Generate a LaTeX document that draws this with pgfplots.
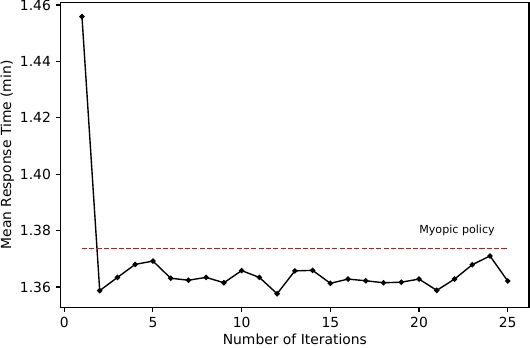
\documentclass[border=0pt]{standalone}
\usepackage{fontspec}
\setmainfont{DejaVu Sans}
\usepackage{pgfplots}
\pgfplotsset{compat=1.18}

\begin{document}
\begin{tikzpicture}
\useasboundingbox (-43.7pt,-29.3pt) rectangle (338.0pt,221.3pt);
\begin{axis}[
    scale only axis,
    width=337.3pt,
    height=219.5pt,
    xmin=-0.2, xmax=26.2,
    ymin=1.3528, ymax=1.4609,
    xtick={0,5,10,15,20,25},
    ytick={1.36,1.38,1.40,1.42,1.44,1.46},
    yticklabel style={/pgf/number format/.cd, fixed, fixed zerofill, precision=2},
    /pgf/number format/assume math mode=true,
    tick align=outside,
    xtick pos=bottom,
    ytick pos=left,
    major tick length=3.5pt,
    tick style={black, line width=0.8pt},
    axis line style={line width=0.8pt},
    ticklabel style={font=\fontsize{10pt}{12pt}\selectfont},
    xlabel={Number of Iterations},
    ylabel={Mean Response Time (min)},
    label style={font=\fontsize{10pt}{12pt}\selectfont},
    xlabel style={at={(axis description cs:0.5,0)}, anchor=base, yshift=-26.9pt, inner sep=0pt},
    % ylabel is rotated, so its yshift moves it to the left
    ylabel style={at={(axis description cs:0,0.5)}, anchor=north, yshift=43.5pt, inner sep=0pt},
]

% iterations
\addplot[black, line width=1pt, mark=*, mark size=1.4pt] coordinates {
    (1,1.4559) (2,1.3587) (3,1.3634) (4,1.3680) (5,1.3692)
    (6,1.3631) (7,1.3624) (8,1.3634) (9,1.3615) (10,1.3658)
    (11,1.3634) (12,1.3576) (13,1.3657) (14,1.3659) (15,1.3613)
    (16,1.3628) (17,1.3622) (18,1.3615) (19,1.3617) (20,1.3628)
    (21,1.3588) (22,1.3628) (23,1.3679) (24,1.3710) (25,1.3621)
};

% myopic policy baseline
\addplot[red, line width=1pt, dash pattern=on 3.7pt off 1.6pt] coordinates {
    (1,1.3737) (25,1.3737)
};

\node[anchor=west, inner sep=0pt, font=\fontsize{8pt}{9.6pt}\selectfont] at (axis cs:20,1.38) {Myopic policy};

\end{axis}
\end{tikzpicture}
\end{document}
